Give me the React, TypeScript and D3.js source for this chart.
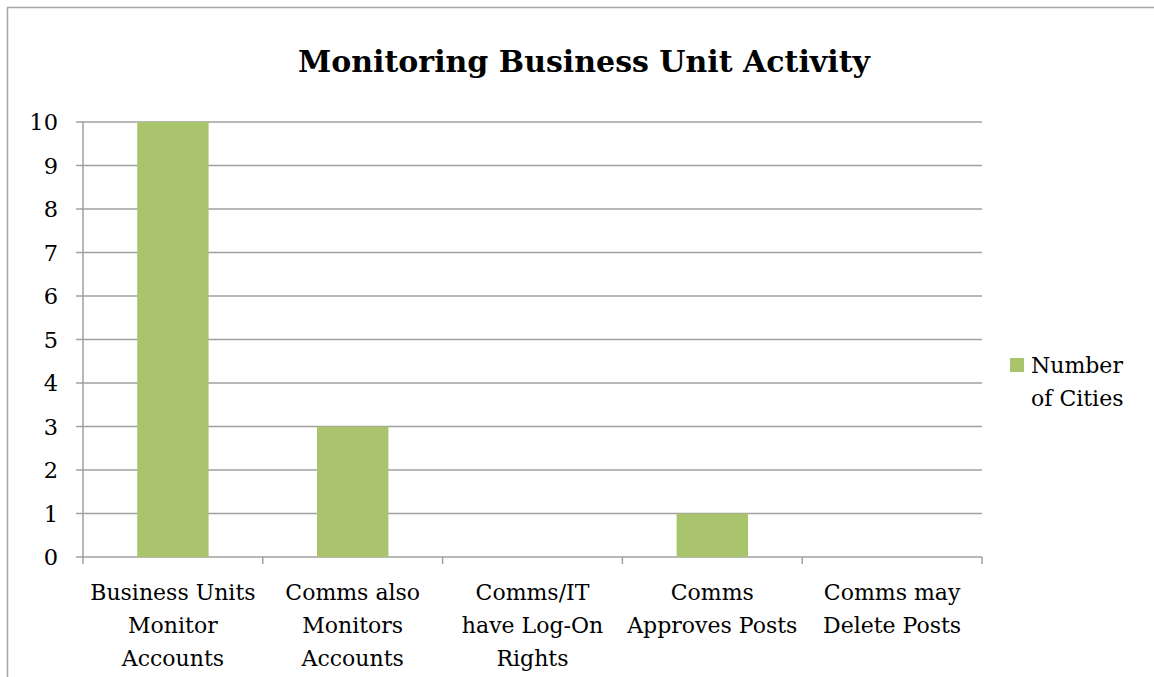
import React from "react";
import * as d3 from "d3";

const categories = [
  ["Business Units", "Monitor", "Accounts"],
  ["Comms also", "Monitors", "Accounts"],
  ["Comms/IT", "have Log-On", "Rights"],
  ["Comms", "Approves Posts"],
  ["Comms may", "Delete Posts"],
];
const cityCounts = [10, 3, 0, 1, 0];
const yTicks = [0, 1, 2, 3, 4, 5, 6, 7, 8, 9, 10];
const seriesName = ["Number", "of Cities"];

const W = 1154;
const H = 677;
const font = "'DejaVu Serif', 'Liberation Serif', serif";

export default function App() {
  const left = 83;
  const right = 982;
  const top = 122;
  const bottom = 557;

  const x = d3
    .scaleBand<number>()
    .domain(d3.range(categories.length))
    .range([left, right])
    .paddingInner(0)
    .paddingOuter(0);
  const y = d3.scaleLinear().domain([0, 10]).range([bottom, top]);
  const bw = x.bandwidth() * 0.397;

  return (
    <svg
      width={W}
      height={H}
      style={{ position: "absolute", left: 0, top: 0, background: "#fff" }}
      fontFamily={font}
    >
      {/* frame */}
      <path d={`M7.5,${H} V7.5 H${W}`} fill="none" stroke="#a6a6a6" strokeWidth={1.5} />

      <text x={584} y={72} textAnchor="middle" fontSize={30} fontWeight="bold" fill="#000">
        Monitoring Business Unit Activity
      </text>

      {/* gridlines + y ticks */}
      {yTicks.map((t) => (
        <g key={t}>
          <line x1={left - 7} x2={right} y1={y(t)} y2={y(t)} stroke="#a0a0a0" strokeWidth={1.5} />
          <text x={58} y={y(t) + 8} textAnchor="end" fontSize={22.5} fill="#000">
            {t}
          </text>
        </g>
      ))}

      {/* y axis */}
      <line x1={left} x2={left} y1={top} y2={bottom} stroke="#a0a0a0" strokeWidth={1.5} />

      {/* x ticks */}
      {d3.range(categories.length + 1).map((i) => {
        const xx = i < categories.length ? x(i)! : right;
        return (
          <line key={i} x1={xx} x2={xx} y1={bottom} y2={bottom + 7} stroke="#a0a0a0" strokeWidth={1.5} />
        );
      })}

      {/* bars */}
      {cityCounts.map((v, i) =>
        v > 0 ? (
          <rect
            key={i}
            x={x(i)! + (x.bandwidth() - bw) / 2}
            y={y(v)}
            width={bw}
            height={y(0) - y(v)}
            fill="#a9c46c"
          />
        ) : null
      )}

      {/* x labels */}
      {categories.map((lines, i) => (
        <text key={i} textAnchor="middle" fontSize={22} fill="#000">
          {lines.map((ln, j) => (
            <tspan key={j} x={x(i)! + x.bandwidth() / 2} y={600 + j * 33}>
              {ln}
            </tspan>
          ))}
        </text>
      ))}

      {/* legend */}
      <rect x={1010} y={358} width={14} height={14} fill="#a9c46c" />
      <text fontSize={22} fill="#000">
        {seriesName.map((ln, j) => (
          <tspan key={j} x={1031} y={373 + j * 33}>
            {ln}
          </tspan>
        ))}
      </text>
    </svg>
  );
}
